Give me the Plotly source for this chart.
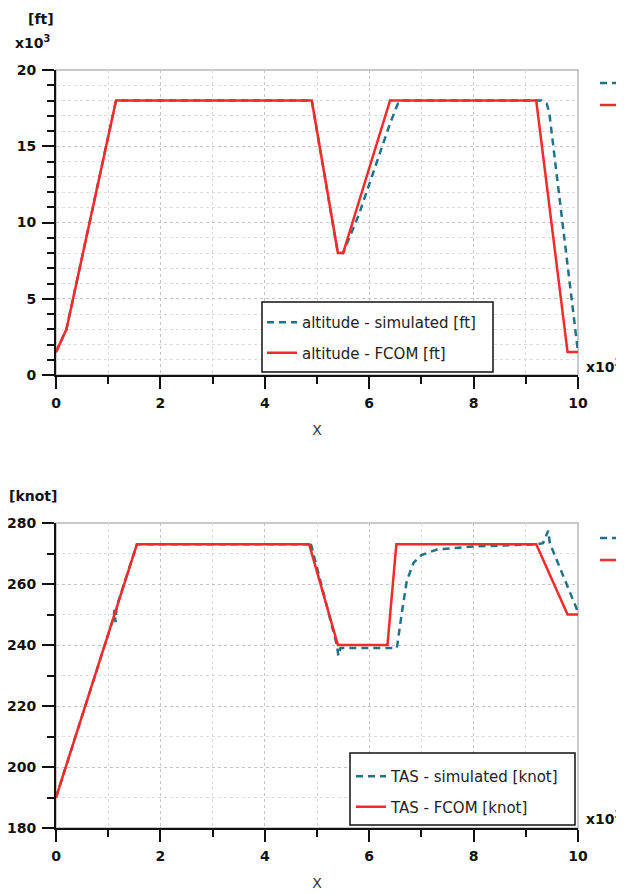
import plotly.graph_objects as go

# ---------------- data (x in thousands) ----------------
alt_fcom_x = [0, 0.2, 1.15, 4.9, 5.4, 5.5, 6.4, 9.2, 9.8, 10]
alt_fcom_y = [1.5, 3.0, 18, 18, 8, 8, 18, 18, 1.5, 1.5]

alt_sim_x = [0, 0.2, 1.15, 4.9, 5.4, 5.5, 5.8, 6.1, 6.4, 6.55, 6.65, 9.3, 9.4, 9.45, 10]
alt_sim_y = [1.5, 3.0, 18, 18, 8, 8, 10.5, 13.5, 16.5, 17.8, 18, 18, 17.8, 17.2, 1.5]

tas_fcom_x = [0, 1.55, 4.85, 5.4, 6.35, 6.52, 9.2, 9.8, 10]
tas_fcom_y = [190, 273, 273, 240, 240, 273, 273, 250, 250]

tas_sim_x = [0, 1.1, 1.12, 1.14, 1.16, 1.55, 4.85, 4.87, 5.38, 5.41, 5.45, 6.3, 6.53,
             6.62, 6.72, 6.85, 7.0, 7.3, 8.0, 9.2, 9.33, 9.43, 9.46, 10]
tas_sim_y = [190, 248.8, 251.5, 247.5, 252.5, 273, 273, 274, 240, 236.5, 239, 239, 239,
             250, 261, 267, 269.5, 271.3, 272.3, 273, 273.4, 277.5, 273.4, 250.8]

alt_ticks = [0, 5, 10, 15, 20]
tas_ticks = [180, 200, 220, 240, 260, 280]
x_ticks = [0, 2, 4, 6, 8, 10]

TEAL = "#1f7389"
RED = "#f42a2a"
FONT = "DejaVu Sans"
DASH = "7px,5px"

fig = go.Figure()
fig.add_trace(go.Scatter(x=alt_sim_x, y=alt_sim_y, mode="lines", name="altitude - simulated [ft]",
                         line=dict(color=TEAL, width=2.5, dash=DASH),
                         xaxis="x", yaxis="y", legend="legend", legendgroup="a1"))
fig.add_trace(go.Scatter(x=alt_fcom_x, y=alt_fcom_y, mode="lines", name="altitude - FCOM [ft]",
                         line=dict(color=RED, width=2.5),
                         xaxis="x", yaxis="y", legend="legend", legendgroup="a2"))
fig.add_trace(go.Scatter(x=tas_sim_x, y=tas_sim_y, mode="lines", name="TAS - simulated [knot]",
                         line=dict(color=TEAL, width=2.5, dash=DASH),
                         xaxis="x2", yaxis="y2", legend="legend2", legendgroup="t1"))
fig.add_trace(go.Scatter(x=tas_fcom_x, y=tas_fcom_y, mode="lines", name="TAS - FCOM [knot]",
                         line=dict(color=RED, width=2.5),
                         xaxis="x2", yaxis="y2", legend="legend2", legendgroup="t2"))

# page is shown with an 8px body margin
OFF = 8
W, H = 624 - OFF, 893 - OFF
L, R, T, B = 56 - OFF, 46, 70 - OFF, 65
PW, PH = W - L - R, H - T - B

def px(x):
    return (x - OFF - L) / PW

def py(y):
    return (OFF + H - B - y) / PH

tickfont = dict(family=FONT, size=14, color="#111", weight="bold")
minor_common = dict(ticks="outside", ticklen=7, tickwidth=2, tickcolor="#111",
                    showgrid=True, gridcolor="#dcdcdc", griddash="dot", gridwidth=1)
common_x = dict(range=[0, 10], tickvals=x_ticks, ticks="outside", ticklen=12, tickwidth=2,
                tickcolor="#111", showline=True, linecolor="#111", linewidth=2,
                showgrid=True, gridcolor="#c4c4c4", griddash="dot", gridwidth=1,
                zeroline=False, tickfont=tickfont, ticklabelstandoff=2,
                title=dict(text="X", font=dict(family=FONT, size=14, color="#333"), standoff=15),
                minor=dict(minor_common, dtick=1))
common_y = dict(ticks="outside", ticklen=12, tickwidth=2, tickcolor="#111",
                showline=True, linecolor="#111", linewidth=2,
                showgrid=True, gridcolor="#c4c4c4", griddash="dot", zeroline=False,
                tickfont=tickfont, ticklabelstandoff=3)

fig.update_layout(
    width=W, height=H,
    margin=dict(l=L, r=R, t=T, b=B, autoexpand=False),
    paper_bgcolor="white", plot_bgcolor="white",
    showlegend=True,
    xaxis=dict(common_x, domain=[0, 1], anchor="y"),
    yaxis=dict(common_y, range=[0, 20], tickvals=alt_ticks, domain=[py(375), 1], anchor="x",
               minor=dict(minor_common, dtick=1)),
    xaxis2=dict(common_x, domain=[0, 1], anchor="y2"),
    yaxis2=dict(common_y, range=[180, 280], tickvals=tas_ticks, domain=[0, py(523)], anchor="x2",
                minor=dict(minor_common, dtick=10)),
    legend=dict(x=px(262), y=py(306), xanchor="left", yanchor="top",
                bgcolor="rgba(0,0,0,0)", borderwidth=0,
                font=dict(family=FONT, size=15, color="#222"), tracegroupgap=8),
    legend2=dict(x=px(351), y=py(760), xanchor="left", yanchor="top",
                 bgcolor="rgba(0,0,0,0)", borderwidth=0,
                 font=dict(family=FONT, size=15, color="#222"), tracegroupgap=8),
)

# grey frame on top/right of each plot
for xr, yr in (("x domain", "y domain"), ("x2 domain", "y2 domain")):
    fig.add_shape(type="rect", xref=xr, yref=yr, x0=0, x1=1, y0=0, y1=1,
                  line=dict(color="#b8b8b8", width=1.5), layer="below")

# legend frames
for x0, y0, x1, y1 in ((262, 302, 493, 372), (350, 753, 575, 825)):
    fig.add_shape(type="rect", xref="paper", yref="paper", x0=px(x0), x1=px(x1),
                  y0=py(y1), y1=py(y0), line=dict(color="#111", width=1.5),
                  fillcolor="white", layer="above")

# partially visible legend on the right edge
for yy, col, dash in ((83, TEAL, DASH), (105, RED, "solid"),
                      (538, TEAL, DASH), (560, RED, "solid")):
    fig.add_shape(type="line", xref="paper", yref="paper", x0=px(600), x1=px(630),
                  y0=py(yy), y1=py(yy), line=dict(color=col, width=2.5, dash=dash))

bold = dict(family=FONT, size=14, color="#111", weight="bold")
ann = [
    dict(text="[ft]", x=px(41), y=py(19)),
    dict(text="x10<sup>3</sup>", x=px(33), y=py(42)),
    dict(text="[knot]", x=px(33), y=py(496)),
]
for a in ann:
    fig.add_annotation(xref="paper", yref="paper", showarrow=False, font=bold,
                       xanchor="center", yanchor="middle", **a)
for yy in (366, 818):
    fig.add_annotation(xref="paper", yref="paper", showarrow=False, font=bold,
                       text="x10<sup>3</sup>", x=px(584), y=py(yy),
                       xanchor="left", yanchor="middle")

fig.write_html("out.html")
